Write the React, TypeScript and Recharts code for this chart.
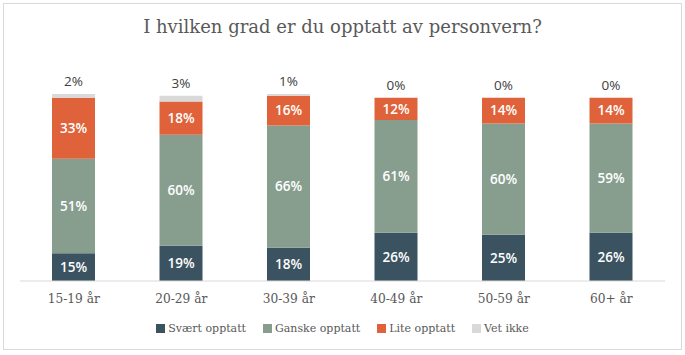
import { BarChart, Bar, XAxis, YAxis, Legend, LabelList } from "recharts";

const ageGroups = ["15-19 år", "20-29 år", "30-39 år", "40-49 år", "50-59 år", "60+ år"];
const svaertOpptatt = [15, 19, 18, 26, 25, 26];
const ganskeOpptatt = [51, 60, 66, 61, 60, 59];
const liteOpptatt = [33, 18, 16, 12, 14, 14];
const vetIkke = [2, 3, 1, 0, 0, 0];

const seriesNames = ["Svært opptatt", "Ganske opptatt", "Lite opptatt", "Vet ikke"];
const seriesColors = ["#3b5360", "#879e8f", "#e0623a", "#d9d9d9"];

const data = ageGroups.map((group, i) => ({
  group,
  svaert: svaertOpptatt[i],
  ganske: ganskeOpptatt[i],
  lite: liteOpptatt[i],
  vet: vetIkke[i],
}));

const serif = "'DejaVu Serif', serif";
const sans = "'Open Sans', sans-serif";
const pct = (v: any) => `${v}%`;

const insideLabel = {
  fill: "#ffffff",
  fontFamily: sans,
  fontSize: 13.5,
  fontWeight: 600,
};

// keep legend in series order (recharts sorts by name otherwise)
const LegendContent = () => (
  <div style={{ display: "flex", justifyContent: "center", gap: 17, fontFamily: serif, fontSize: 11, color: "#595959" }}>
    {seriesNames.map((name, i) => (
      <span key={name} style={{ display: "flex", alignItems: "center" }}>
        <span style={{ width: 9, height: 9, background: seriesColors[i], marginRight: 3, display: "inline-block" }} />
        {name}
      </span>
    ))}
  </div>
);

const App = () => {
  return (
    <div style={{ position: "absolute", left: 0, top: 0, width: 685, height: 355, background: "#fff" }}>
      <div
        style={{
          position: "absolute",
          left: 3,
          top: 3,
          width: 677,
          height: 345,
          border: "1px solid #d9d9d9",
        }}
      />
      <div
        style={{
          position: "absolute",
          top: 16,
          width: 685,
          textAlign: "center",
          fontFamily: serif,
          fontSize: 18,
          color: "#595959",
        }}>
        I hvilken grad er du opptatt av personvern?
      </div>
      <div style={{ position: "absolute", left: 0, top: 0 }}>
        <BarChart
          width={685}
          height={355}
          data={data}
          margin={{ top: 94, right: 20, bottom: 44, left: 20 }}>
          <XAxis
            dataKey='group'
            axisLine={{ stroke: "#d9d9d9" }}
            tickLine={false}
            tick={{ fill: "#595959", fontFamily: serif, fontSize: 12.2 }}
            tickMargin={7}
          />
          <YAxis hide domain={[0, 101]} />
          <Legend
            verticalAlign='top'
            content={<LegendContent />}
            wrapperStyle={{ top: 322, left: 0, width: 685, height: 0, overflow: "visible" }}
          />
          <Bar dataKey='svaert' name='Svært opptatt' stackId='a' fill={seriesColors[0]} barSize={43} isAnimationActive={false}>
            <LabelList dataKey='svaert' position='center' formatter={pct} style={insideLabel} />
          </Bar>
          <Bar dataKey='ganske' name='Ganske opptatt' stackId='a' fill={seriesColors[1]} barSize={43} isAnimationActive={false}>
            <LabelList dataKey='ganske' position='center' formatter={pct} style={insideLabel} />
          </Bar>
          <Bar dataKey='lite' name='Lite opptatt' stackId='a' fill={seriesColors[2]} barSize={43} isAnimationActive={false}>
            <LabelList dataKey='lite' position='center' formatter={pct} style={insideLabel} />
          </Bar>
          <Bar
            dataKey='vet'
            name='Vet ikke'
            stackId='a'
            fill={seriesColors[3]}
            barSize={43}
            minPointSize={0.01}
            isAnimationActive={false}>
            <LabelList
              dataKey='vet'
              position='top'
              offset={8}
              formatter={pct}
              style={{ fill: "#404040", fontFamily: sans, fontSize: 13.5 }}
            />
          </Bar>
        </BarChart>
      </div>
    </div>
  );
};
export default App;
